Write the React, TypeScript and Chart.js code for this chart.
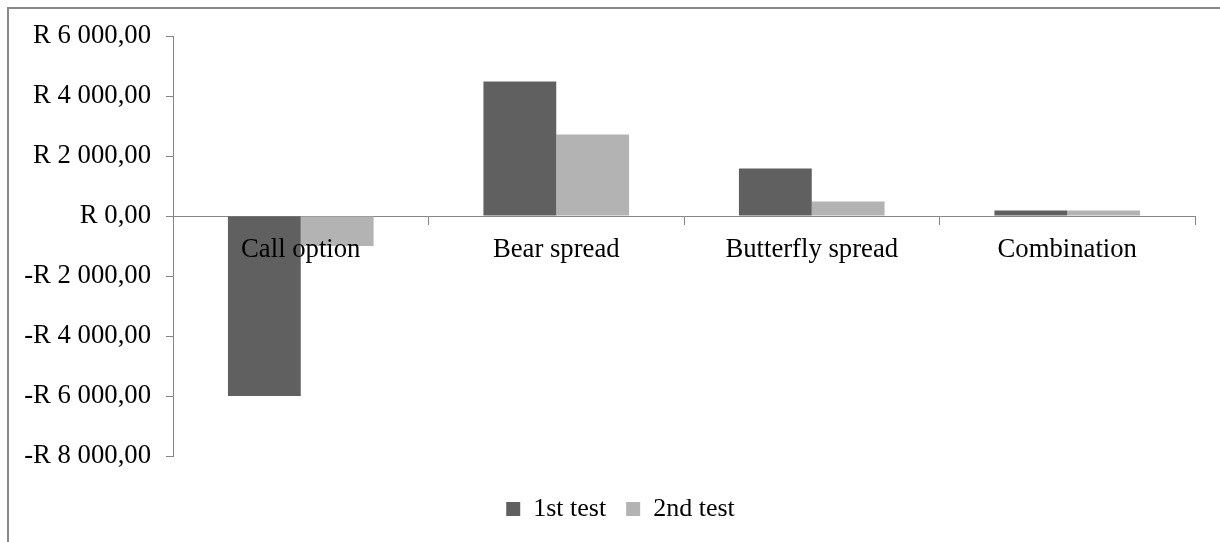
import React, { useEffect, useRef } from "react";
import { Chart, registerables } from "chart.js";

Chart.register(...registerables);

const categories = ["Call option", "Bear spread", "Butterfly spread", "Combination"];
const seriesNames = ["1st test", "2nd test"];
const firstTest = [-6000, 4480, 1580, 180];
const secondTest = [-1000, 2720, 480, 180];
const yTickValues = [-8000, -6000, -4000, -2000, 0, 2000, 4000, 6000];
const yTickLabels = [
  "-R 8 000,00",
  "-R 6 000,00",
  "-R 4 000,00",
  "-R 2 000,00",
  "R 0,00",
  "R 2 000,00",
  "R 4 000,00",
  "R 6 000,00",
];

const FAMILY = "'Liberation Serif', 'Times New Roman', serif";
const TICK_FONT = { family: FAMILY, size: 26.7 };
const LEGEND_FONT = { family: FAMILY, size: 26 };
const AXIS = "#868686";

export default function App() {
  const ref = useRef<HTMLCanvasElement>(null);
  useEffect(() => {
    if (!ref.current) return;
    Chart.defaults.font.family = FAMILY;
    Chart.defaults.color = "#000";
    const chart = new Chart(ref.current, {
      type: "bar",
      data: {
        labels: categories,
        datasets: [
          {
            label: seriesNames[0],
            data: firstTest,
            backgroundColor: "#606060",
            borderWidth: 0,
            xAxisID: "x",
            yAxisID: "y",
            categoryPercentage: 0.57,
            barPercentage: 1,
          },
          {
            label: seriesNames[1],
            data: secondTest,
            backgroundColor: "#b3b3b3",
            borderWidth: 0,
            xAxisID: "x",
            yAxisID: "y",
            categoryPercentage: 0.57,
            barPercentage: 1,
          },
        ],
      },
      options: {
        responsive: false,
        animation: false,
        layout: { padding: { left: 0, right: 0, top: 27, bottom: 10 } },
        plugins: {
          tooltip: { enabled: false },
          legend: {
            position: "bottom",
            labels: {
              boxWidth: 14,
              boxHeight: 14,
              padding: 20,
              font: LEGEND_FONT,
              color: "#000",
            },
          },
        },
        scales: {
          x: {
            type: "category",
            position: { y: 0 } as any,
            grid: {
              drawOnChartArea: false,
              drawTicks: true,
              tickLength: 8,
              color: AXIS,
              offset: true,
            },
            border: { display: true, color: AXIS, width: 1 },
            ticks: { font: TICK_FONT, color: "#000", padding: 10, maxRotation: 0, autoSkip: false, z: 1 } as any,
          },
          spacer: {
            type: "category",
            axis: "x",
            position: "bottom",
            display: true,
            grid: { display: false, drawTicks: false },
            border: { display: false },
            ticks: { display: false },
            afterFit: (s: any) => {
              s.height = 20;
            },
          } as any,
          y: {
            type: "linear",
            position: "left",
            min: -8000,
            max: 6000,
            afterFit: (s: any) => {
              s.width = 164;
              s.paddingTop = 10;
              s.paddingBottom = 10;
            },
            afterBuildTicks: (s: any) => {
              s.ticks = yTickValues.map((v) => ({ value: v }));
            },
            grid: {
              drawOnChartArea: false,
              drawTicks: true,
              tickLength: 7,
              color: AXIS,
            },
            border: { display: true, color: AXIS, width: 1 },
            ticks: {
              font: TICK_FONT,
              color: "#000",
              padding: 15,
              callback: (v: any) => yTickLabels[yTickValues.indexOf(Number(v))],
            },
          },
          rightSpacer: {
            type: "linear",
            axis: "y",
            position: "right",
            display: true,
            grid: { display: false, drawTicks: false },
            border: { display: false },
            ticks: { display: false },
            afterFit: (s: any) => {
              s.width = 37;
              s.paddingTop = 0;
              s.paddingBottom = 0;
            },
          } as any,
        },
      },
    });
    return () => chart.destroy();
  }, []);

  return (
    <div
      style={{
        position: "fixed",
        left: 0,
        top: 0,
        width: 1220,
        height: 542,
        overflow: "hidden",
        background: "#fff",
      }}
    >
      <div
        style={{
          position: "absolute",
          left: 7,
          top: 7,
          width: 1300,
          height: 600,
          borderTop: "2px solid #8a8a8a",
          borderLeft: "2px solid #8a8a8a",
        }}
      >
        <canvas ref={ref} width={1223} height={533} style={{ display: "block" }} />
      </div>
    </div>
  );
}
